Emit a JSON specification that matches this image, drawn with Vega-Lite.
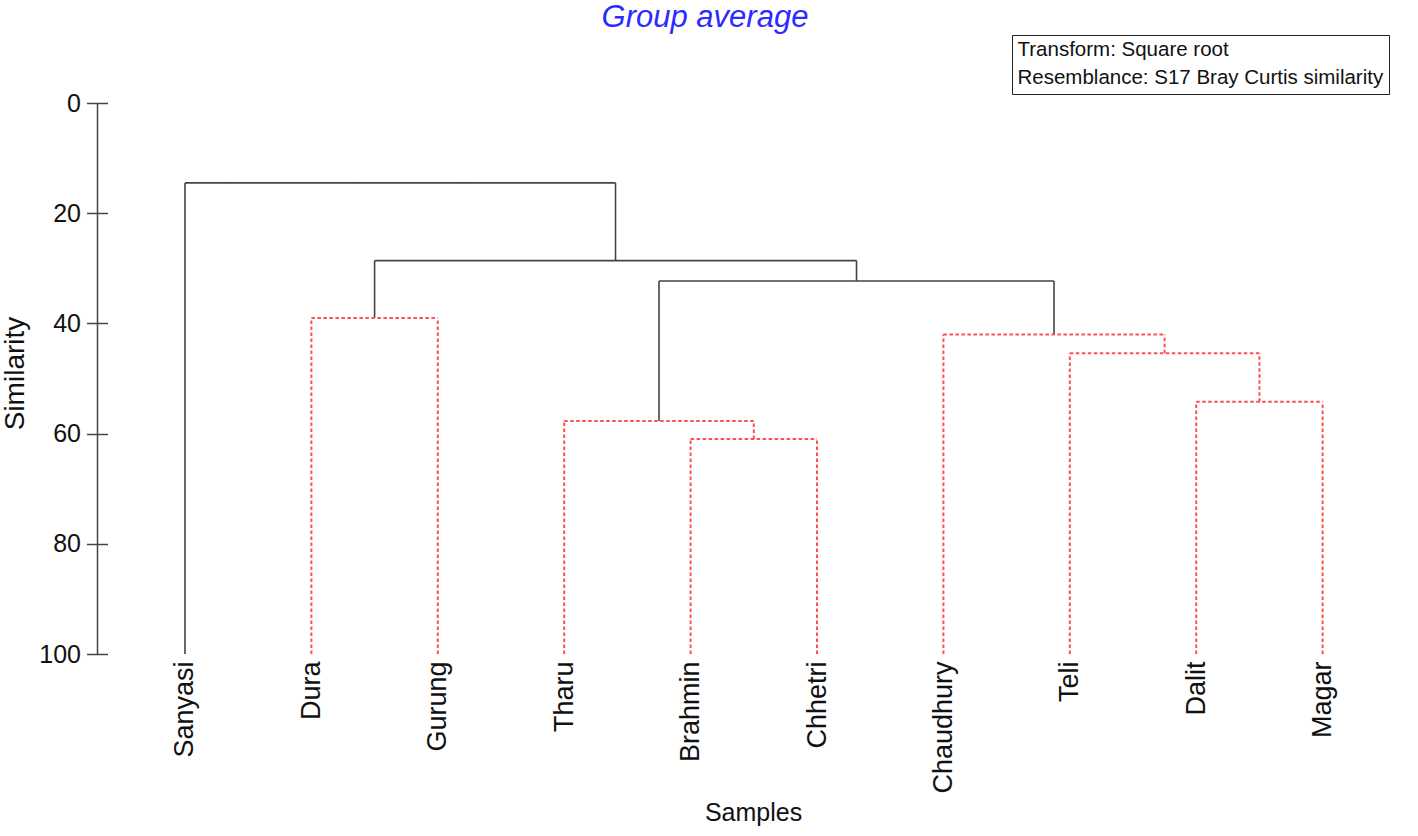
{
  "$schema": "https://vega.github.io/schema/vega-lite/v6.json",
  "autosize": {"type": "none"},
  "padding": {"left": 97, "top": 103, "right": 51, "bottom": 182},
  "width": 1270,
  "height": 551,
  "background": "white",
  "config": {
    "font": "Liberation Sans",
    "view": {"stroke": null}
  },
  "title": {
    "text": "Group average",
    "font": "Liberation Sans",
    "fontSize": 31,
    "fontStyle": "italic",
    "fontWeight": "normal",
    "color": "#2b2bff",
    "anchor": "middle",
    "dx": -27,
    "offset": 1
  },
  "data": {
    "values": [
      {"x": 0, "x2": 0, "y": 100, "y2": 14.5, "k": "solid"},
      {"x": 0, "x2": 3.406, "y": 14.5, "y2": 14.5, "k": "solid"},
      {"x": 3.406, "x2": 3.406, "y": 28.6, "y2": 14.5, "k": "solid"},
      {"x": 1.5, "x2": 5.3125, "y": 28.6, "y2": 28.6, "k": "solid"},
      {"x": 1.5, "x2": 1.5, "y": 39.0, "y2": 28.6, "k": "solid"},
      {"x": 5.3125, "x2": 5.3125, "y": 32.3, "y2": 28.6, "k": "solid"},
      {"x": 3.75, "x2": 6.875, "y": 32.3, "y2": 32.3, "k": "solid"},
      {"x": 3.75, "x2": 3.75, "y": 57.7, "y2": 32.3, "k": "solid"},
      {"x": 6.875, "x2": 6.875, "y": 42.0, "y2": 32.3, "k": "solid"},
      {"x": 1, "x2": 1, "y": 100, "y2": 39.0, "k": "dotted"},
      {"x": 2, "x2": 2, "y": 100, "y2": 39.0, "k": "dotted"},
      {"x": 1, "x2": 2, "y": 39.0, "y2": 39.0, "k": "dotted"},
      {"x": 3, "x2": 3, "y": 100, "y2": 57.7, "k": "dotted"},
      {"x": 3, "x2": 4.5, "y": 57.7, "y2": 57.7, "k": "dotted"},
      {"x": 4.5, "x2": 4.5, "y": 61.0, "y2": 57.7, "k": "dotted"},
      {"x": 4, "x2": 5, "y": 61.0, "y2": 61.0, "k": "dotted"},
      {"x": 4, "x2": 4, "y": 100, "y2": 61.0, "k": "dotted"},
      {"x": 5, "x2": 5, "y": 100, "y2": 61.0, "k": "dotted"},
      {"x": 6, "x2": 6, "y": 100, "y2": 42.0, "k": "dotted"},
      {"x": 6, "x2": 7.75, "y": 42.0, "y2": 42.0, "k": "dotted"},
      {"x": 7.75, "x2": 7.75, "y": 45.4, "y2": 42.0, "k": "dotted"},
      {"x": 7, "x2": 8.5, "y": 45.4, "y2": 45.4, "k": "dotted"},
      {"x": 7, "x2": 7, "y": 100, "y2": 45.4, "k": "dotted"},
      {"x": 8.5, "x2": 8.5, "y": 54.2, "y2": 45.4, "k": "dotted"},
      {"x": 8, "x2": 9, "y": 54.2, "y2": 54.2, "k": "dotted"},
      {"x": 8, "x2": 8, "y": 100, "y2": 54.2, "k": "dotted"},
      {"x": 9, "x2": 9, "y": 100, "y2": 54.2, "k": "dotted"}
    ]
  },
  "encoding": {
    "x": {
      "field": "x",
      "type": "quantitative",
      "scale": {"domain": [-0.696, 9.351], "nice": false, "zero": false},
      "axis": {
        "orient": "bottom",
        "values": [0, 1, 2, 3, 4, 5, 6, 7, 8, 9],
        "labelExpr": "['Sanyasi','Dura','Gurung','Tharu','Brahmin','Chhetri','Chaudhury','Teli','Dalit','Magar'][datum.value]",
        "labelAngle": 270,
        "labelAlign": "right",
        "labelBaseline": "middle",
        "labelFontSize": 27,
        "labelColor": "#111",
        "labelPadding": 7,
        "labelFlush": false,
        "labelOverlap": false,
        "ticks": false,
        "domain": false,
        "grid": false,
        "title": "Samples",
        "titleFontSize": 25,
        "titleFontWeight": "normal",
        "titleColor": "#111",
        "titleX": 656,
        "titleY": 166,
        "titleBaseline": "alphabetic",
        "titleAnchor": null
      }
    },
    "x2": {"field": "x2"},
    "y": {
      "field": "y",
      "type": "quantitative",
      "scale": {"domain": [0, 100], "reverse": true, "nice": false}
    },
    "y2": {"field": "y2"},
    "color": {
      "field": "k",
      "type": "nominal",
      "scale": {"domain": ["solid", "dotted"], "range": ["#444444", "#ff5050"]},
      "legend": {
        "orient": "none",
        "legendX": 915,
        "legendY": -68,
        "title": null,
        "strokeColor": "#222",
        "fillColor": "white",
        "padding": 5,
        "symbolOpacity": 0,
        "symbolSize": 0.0001,
        "symbolStrokeWidth": 0,
        "labelOffset": -20,
        "labelFontSize": 20.5,
        "labelColor": "#111",
        "labelLimit": 0,
        "rowPadding": 7,
        "labelExpr": "datum.value == 'solid' ? 'Transform: Square root' : 'Resemblance: S17 Bray Curtis similarity\u00a0\u00a0\u00a0\u00a0'"
      }
    },
    "strokeDash": {
      "field": "k",
      "type": "nominal",
      "scale": {"domain": ["solid", "dotted"], "range": [[1, 0], [3.5, 2.5]]},
      "legend": null
    }
  },
  "resolve": {"axis": {"y": "independent"}},
  "layer": [
    {
      "transform": [{"filter": "datum.k == 'solid'"}],
      "mark": {"type": "rule", "strokeWidth": 1.6},
      "encoding": {
        "y": {
          "field": "y",
          "type": "quantitative",
          "scale": {"domain": [0, 100], "reverse": true, "nice": false},
          "axis": {
            "orient": "left",
            "offset": -10.5,
            "tickSize": 21,
            "tickColor": "#444",
            "tickWidth": 1.5,
            "domain": false,
            "grid": false,
            "values": [0, 20, 40, 60, 80, 100],
            "labelFontSize": 25,
            "labelColor": "#111",
            "labelPadding": 6,
            "labelFlush": false,
            "labelBaseline": "middle",
            "title": "Similarity",
            "titleFontSize": 28,
            "titleFontWeight": "normal",
            "titleColor": "#111",
            "titleAngle": 270,
            "titleX": -84,
            "titleY": 270,
            "titleBaseline": "alphabetic",
            "titleAnchor": null
          }
        }
      }
    },
    {
      "transform": [{"filter": "datum.k == 'dotted'"}],
      "mark": {"type": "rule", "strokeWidth": 2},
      "encoding": {
        "y": {
          "field": "y",
          "type": "quantitative",
          "scale": {"domain": [0, 100], "reverse": true, "nice": false},
          "axis": {
            "orient": "left",
            "offset": 0,
            "domain": true,
            "domainColor": "#444",
            "domainWidth": 1.5,
            "ticks": false,
            "labels": false,
            "grid": false,
            "title": null
          }
        }
      }
    }
  ]
}
